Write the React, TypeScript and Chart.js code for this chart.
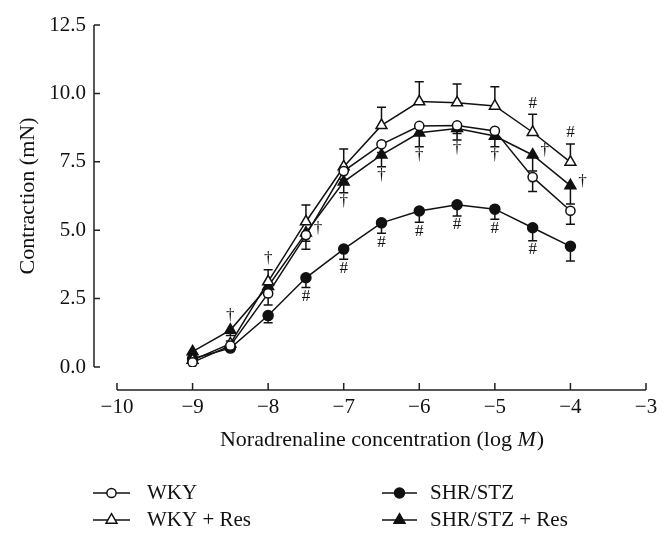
import React, { useEffect, useRef } from 'react';
import { Chart, registerables } from 'chart.js';

Chart.register(...registerables);

// ---------- data ----------
const concentrations = [-9, -8.5, -8, -7.5, -7, -6.5, -6, -5.5, -5, -4.5, -4];

const wkyValues = [0.17, 0.78, 2.69, 4.82, 7.16, 8.14, 8.81, 8.83, 8.63, 6.94, 5.71];
const wkyErrors = [0.05, 0.1, 0.42, 0.52, 0.3, 0.3, 0.3, 0.3, 0.3, 0.53, 0.49];

const wkyResValues = [0.25, 0.85, 3.12, 5.31, 7.32, 8.83, 9.7, 9.66, 9.54, 8.58, 7.49];
const wkyResErrors = [0.1, 0.1, 0.43, 0.61, 0.65, 0.66, 0.73, 0.68, 0.7, 0.66, 0.66];

const shrValues = [0.3, 0.69, 1.88, 3.26, 4.31, 5.27, 5.7, 5.93, 5.77, 5.09, 4.41];
const shrErrors = [0.05, 0.1, 0.26, 0.35, 0.37, 0.38, 0.41, 0.41, 0.37, 0.48, 0.54];

const shrResValues = [0.56, 1.35, 2.95, 4.9, 6.77, 7.75, 8.56, 8.72, 8.44, 7.75, 6.63];
const shrResErrors = [0.1, 0.2, 0.2, 0.3, 0.4, 0.43, 0.51, 0.42, 0.39, 0.59, 0.67];

const seriesNames = ['WKY', 'WKY + Res', 'SHR/STZ', 'SHR/STZ + Res'];
const errorDirections = ['down', 'up', 'down', 'down'];

const xTickValues = [-10, -9, -8, -7, -6, -5, -4, -3];
const yTickValues = [0, 2.5, 5, 7.5, 10, 12.5];

// significance marks: symbol, concentration, series index, placement
const markSymbols = ['#', '#', '#', '#', '#', '#', '#', '†', '†', '†', '†', '†', '†', '†', '†', '†', '†', '#', '#'];
const markX = [-7.5, -7, -6.5, -6, -5.5, -5, -4.5, -7, -6.5, -6, -5.5, -5, -7.5, -4.5, -4, -8, -8.5, -4.5, -4];
const markSeries = [2, 2, 2, 2, 2, 2, 2, 3, 3, 3, 3, 3, 3, 3, 3, 1, 3, 1, 1];
const markPlacement = ['below', 'below', 'below', 'below', 'below', 'below', 'below', 'below', 'below', 'below', 'below', 'below', 'right', 'right', 'right', 'above', 'above', 'above', 'above'];

const xTitleMain = 'Noradrenaline concentration (log ';
const xTitleItalic = 'M';
const xTitleEnd = ')';
const yTitle = 'Contraction (mN)';

// ---------- styles ----------
const FONT_FAMILY = '"Liberation Serif", "Times New Roman", serif';
const INK = '#111';
const allValues = [wkyValues, wkyResValues, shrValues, shrResValues];
const allErrors = [wkyErrors, wkyResErrors, shrErrors, shrResErrors];
const pointStyles = ['circle', 'triangle', 'circle', 'triangle'];
const pointFills = ['#fff', '#fff', INK, INK];
const pointRadii = [4.6, 6.3, 5, 6.3];

function drawMarker(ctx: CanvasRenderingContext2D, style: string, fill: string, r: number, x: number, y: number) {
  ctx.save();
  ctx.beginPath();
  if (style === 'circle') {
    ctx.arc(x, y, r, 0, Math.PI * 2);
  } else {
    for (let k = 0; k < 3; k++) {
      const a = (k * 2 * Math.PI) / 3;
      const px = x + Math.sin(a) * r;
      const py = y - Math.cos(a) * r;
      if (k === 0) ctx.moveTo(px, py);
      else ctx.lineTo(px, py);
    }
    ctx.closePath();
  }
  ctx.fillStyle = fill;
  ctx.fill();
  ctx.lineWidth = 1.5;
  ctx.strokeStyle = INK;
  ctx.stroke();
  ctx.restore();
}

const errorBarPlugin = {
  id: 'errorBars',
  beforeDatasetsDraw(chart: any) {
    const { ctx, scales } = chart;
    const xs = scales.x;
    const ys = scales.y;
    ctx.save();
    ctx.strokeStyle = INK;
    ctx.lineWidth = 1.5;
    allValues.forEach((vals, i) => {
      vals.forEach((v, j) => {
        const e = allErrors[i][j];
        const end = errorDirections[i] === 'up' ? v + e : v - e;
        const x = xs.getPixelForValue(concentrations[j]);
        const y0 = ys.getPixelForValue(v);
        const y1 = ys.getPixelForValue(end);
        ctx.beginPath();
        ctx.moveTo(x, y0);
        ctx.lineTo(x, y1);
        ctx.moveTo(x - 4.5, y1);
        ctx.lineTo(x + 4.5, y1);
        ctx.stroke();
      });
    });
    ctx.restore();
  },
};

const axesAndTextPlugin = {
  id: 'axesAndText',
  afterDraw(chart: any) {
    const { ctx, scales, chartArea } = chart;
    const xs = scales.x;
    const ys = scales.y;
    ctx.save();
    ctx.strokeStyle = '#222';
    ctx.lineWidth = 1.5;
    // detached y axis
    const yAxisX = 94;
    ctx.beginPath();
    ctx.moveTo(yAxisX, ys.getPixelForValue(12.5));
    ctx.lineTo(yAxisX, ys.getPixelForValue(0));
    yTickValues.forEach((t) => {
      const y = ys.getPixelForValue(t);
      ctx.moveTo(yAxisX, y);
      ctx.lineTo(yAxisX + 6, y);
    });
    ctx.stroke();
    // detached x axis
    const xAxisY = 390;
    ctx.beginPath();
    ctx.moveTo(xs.getPixelForValue(-10), xAxisY);
    ctx.lineTo(xs.getPixelForValue(-3), xAxisY);
    xTickValues.forEach((t) => {
      const x = xs.getPixelForValue(t);
      ctx.moveTo(x, xAxisY);
      ctx.lineTo(x, xAxisY - 7);
    });
    ctx.stroke();

    // x title with italic M
    ctx.fillStyle = INK;
    ctx.textBaseline = 'middle';
    ctx.textAlign = 'left';
    const normalFont = `22px ${FONT_FAMILY}`;
    const italicFont = `italic 22px ${FONT_FAMILY}`;
    ctx.font = normalFont;
    const w1 = ctx.measureText(xTitleMain).width;
    const w3 = ctx.measureText(xTitleEnd).width;
    ctx.font = italicFont;
    const w2 = ctx.measureText(xTitleItalic).width;
    const cx = (chartArea.left + chartArea.right) / 2;
    let tx = cx - (w1 + w2 + w3) / 2;
    const ty = 440;
    ctx.font = normalFont;
    ctx.fillText(xTitleMain, tx, ty);
    tx += w1;
    ctx.font = italicFont;
    ctx.fillText(xTitleItalic, tx, ty);
    tx += w2 + 1;
    ctx.font = normalFont;
    ctx.fillText(xTitleEnd, tx, ty);

    // legend
    const legendFont = `21px ${FONT_FAMILY}`;
    const cols = [
      { x1: 93, x2: 130, tx: 147 },
      { x1: 382, x2: 417, tx: 430 },
    ];
    const rows = [493, 520];
    const order = [0, 2, 1, 3];
    order.forEach((si, k) => {
      const c = cols[k % 2];
      const r = rows[Math.floor(k / 2)];
      ctx.strokeStyle = INK;
      ctx.lineWidth = 1.5;
      ctx.beginPath();
      ctx.moveTo(c.x1, r);
      ctx.lineTo(c.x2, r);
      ctx.stroke();
      drawMarker(ctx, pointStyles[si], pointFills[si], pointRadii[si], (c.x1 + c.x2) / 2, r);
      ctx.fillStyle = INK;
      ctx.font = legendFont;
      ctx.textAlign = 'left';
      ctx.textBaseline = 'middle';
      ctx.fillText(seriesNames[si], c.tx, r);
    });
    ctx.restore();
  },
  afterDatasetsDraw(chart: any) {
    const { ctx, scales } = chart;
    const xs = scales.x;
    const ys = scales.y;
    ctx.save();
    ctx.fillStyle = INK;
    ctx.font = `17px ${FONT_FAMILY}`;
    ctx.textAlign = 'center';
    ctx.textBaseline = 'middle';
    markSymbols.forEach((sym, k) => {
      const si = markSeries[k];
      const j = concentrations.indexOf(markX[k]);
      const v = allValues[si][j];
      const e = allErrors[si][j];
      const px = xs.getPixelForValue(markX[k]);
      const py = ys.getPixelForValue(v);
      let x = px;
      let y = py;
      const place = markPlacement[k];
      if (place === 'below') {
        const low = errorDirections[si] === 'down' ? v - e : v;
        y = ys.getPixelForValue(low) + 9;
      } else if (place === 'above') {
        if (errorDirections[si] === 'up') y = ys.getPixelForValue(v + e) - 11;
        else y = py - 15;
      } else {
        x = px + 12;
        y = py - 4;
      }
      ctx.fillText(sym, x, y);
    });
    ctx.restore();
  },
};

export default function App() {
  const canvasRef = useRef<HTMLCanvasElement | null>(null);

  useEffect(() => {
    const canvas = canvasRef.current;
    if (!canvas) return;
    const datasets = allValues.map((vals, i) => ({
      label: seriesNames[i],
      data: vals.map((v, j) => ({ x: concentrations[j], y: v })),
      borderColor: INK,
      borderWidth: 1.5,
      backgroundColor: pointFills[i],
      pointStyle: pointStyles[i],
      pointRadius: pointRadii[i],
      pointBorderWidth: 1.5,
      pointBorderColor: INK,
      pointBackgroundColor: pointFills[i],
      showLine: true,
      tension: 0,
      fill: false,
    }));
    const chart = new Chart(canvas, {
      type: 'scatter',
      data: { datasets },
      options: {
        animation: false,
        responsive: false,
        maintainAspectRatio: false,
        layout: { padding: { left: 0, right: 24, top: 25, bottom: 0 } },
        plugins: {
          legend: { display: false },
          tooltip: { enabled: false },
        },
        scales: {
          x: {
            type: 'linear',
            min: -10,
            max: -3,
            afterFit: (s: any) => {
              s.height = 174;
            },
            afterBuildTicks: (s: any) => {
              s.ticks = xTickValues.map((v) => ({ value: v }));
            },
            grid: { display: false, drawTicks: true, tickLength: 28 },
            border: { display: false },
            ticks: {
              padding: 0,
              color: INK,
              font: { family: FONT_FAMILY, size: 21 },
              callback: (v: any) => String(v).replace('-', '\u2212'),
            },
          },
          y: {
            type: 'linear',
            min: 0,
            max: 12.5,
            afterFit: (s: any) => {
              s.width = 117;
            },
            afterBuildTicks: (s: any) => {
              s.ticks = yTickValues.map((v) => ({ value: v }));
            },
            grid: { display: false, drawTicks: true, tickLength: 31 },
            border: { display: false },
            title: {
              display: true,
              text: yTitle,
              color: INK,
              font: { family: FONT_FAMILY, size: 22 },
              padding: { top: 15, bottom: 0 },
            },
            ticks: {
              padding: 0,
              color: INK,
              font: { family: FONT_FAMILY, size: 21 },
              callback: (v: any) => Number(v).toFixed(1),
            },
          },
        },
      },
      plugins: [errorBarPlugin, axesAndTextPlugin],
    } as any);
    return () => chart.destroy();
  }, []);

  return (
    <div style={{ position: 'fixed', left: 0, top: 0, width: 670, height: 541, background: '#fff' }}>
      <canvas ref={canvasRef} width={670} height={541} style={{ width: 670, height: 541, display: 'block' }} />
    </div>
  );
}
